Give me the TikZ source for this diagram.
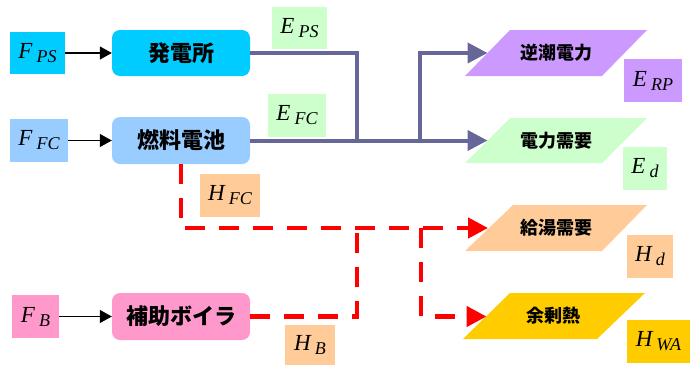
\documentclass[tikz,border=0pt]{standalone}
\usepackage{fontspec}
\newfontfamily\cjk{Noto Sans CJK JP}
\newfontfamily\tms{Liberation Serif}
\newcommand\lbl[2]{{\tms\itshape\fontsize{23}{26}\selectfont #1\hspace{4pt}\raisebox{-4pt}{\fontsize{18}{20}\selectfont #2}}}
\usetikzlibrary{arrows.meta}
\definecolor{cyanbox}{HTML}{00CCFF}
\definecolor{bluebox}{HTML}{99CCFF}
\definecolor{greenbox}{HTML}{CCFFCC}
\definecolor{purplebox}{HTML}{CC99FF}
\definecolor{orangebox}{HTML}{FFCC99}
\definecolor{pinkbox}{HTML}{FF99CC}
\definecolor{goldbox}{HTML}{FFCC00}
\definecolor{elec}{HTML}{666699}
\tikzset{
  lab/.style={inner sep=0pt},
  proc/.style={rounded corners=8pt, minimum width=138pt, minimum height=46pt, inner sep=0pt,
    font=\cjk\bfseries\fontsize{22}{26}\selectfont},
  paratext/.style={inner sep=0pt, font=\cjk\bfseries\fontsize{18}{22}\selectfont},
  feed/.style={line width=1.2pt, -{Triangle[length=12pt,width=13pt]}},
  elecline/.style={elec, line width=4pt},
  eleca/.style={elecline, -{Triangle[length=20pt,width=20pt]}},
  heat/.style={red, line width=4.5pt, dash pattern=on 20pt off 14pt},
  heata/.style={heat, -{Triangle[length=20pt,width=20pt]}}
}
\begin{document}
\begin{tikzpicture}[x=1pt,y=-1pt]
\useasboundingbox (0,0) rectangle (696,365);
% parallelograms
\fill[purplebox] (465,76) -- (510,30) -- (647,30) -- (602,76) -- cycle;
\fill[greenbox] (465,163) -- (510,118) -- (647,118) -- (602,163) -- cycle;
\fill[orangebox] (465,251) -- (513,205) -- (647,205) -- (602,251) -- cycle;
\fill[goldbox] (463,339) -- (510,293) -- (645,293) -- (597,339) -- cycle;
\node[paratext] (RP) at (556,53) {逆潮電力};
\node[paratext] (DJ) at (556,140.5) {電力需要};
\node[paratext] (KY) at (556,228) {給湯需要};
\node[paratext] (YJ) at (553,316) {余剰熱};
\coordinate (RPin) at (487.5,53);
\coordinate (DJin) at (487.5,140.5);
\coordinate (KYin) at (488,228);
\coordinate (YJin) at (486.5,316.5);
% process boxes
\node[proc, fill=cyanbox] (PS) at (181,53) {発電所};
\node[proc, fill=bluebox, minimum height=47pt] (FC) at (181,140.5) {燃料電池};
\node[proc, fill=pinkbox, minimum height=47pt] (HJ) at (181,316.5) {補助ボイラ};
% label boxes
\node[lab, fill=cyanbox, minimum width=55pt, minimum height=42pt] (FPS) at (37.5,53) {\lbl{F}{PS}};
\node[lab, fill=bluebox, minimum width=58pt, minimum height=43pt] (FFC) at (39,140.5) {\lbl{F}{FC}};
\node[lab, fill=pinkbox, minimum width=47pt, minimum height=43pt] (FB) at (35.5,316.5) {\lbl{F}{B}};
\node[lab, fill=greenbox, minimum width=55pt, minimum height=42pt] (EPS) at (299.5,28) {\lbl{E}{PS}};
\node[lab, fill=greenbox, minimum width=58pt, minimum height=43pt] (EFC) at (297,115.5) {\lbl{E}{FC}};
\node[lab, fill=orangebox, minimum width=60pt, minimum height=43pt] (HFC) at (230,195.5) {\lbl{H}{FC}};
\node[lab, fill=orangebox, minimum width=50pt, minimum height=40pt] (HB) at (310,345) {\lbl{H}{B}};
\node[lab, fill=purplebox, minimum width=58pt, minimum height=43pt] (ERP) at (653,80.5) {\lbl{E}{RP}};
\node[lab, fill=greenbox, minimum width=44pt, minimum height=43pt] (Ed) at (645,168.5) {\lbl{E}{d}};
\node[lab, fill=orangebox, minimum width=46pt, minimum height=43pt] (Hd) at (650,256.5) {\lbl{H}{d}};
\node[lab, fill=goldbox, minimum width=63pt, minimum height=43pt] (HWA) at (658.5,341.5) {\lbl{H}{WA}};
% feed arrows
\draw[feed] (FPS.east) -- (PS.west);
\draw[feed] (FFC.east) -- (FC.west);
\draw[feed] (FB.east) -- (HJ.west);
% electricity
\coordinate (j1) at (357,142);
\coordinate (b1) at (420,140.5);
\draw[elecline] (PS.east) -| (j1);
\draw[eleca] (FC.east) -- (DJin);
\draw[eleca] (b1) |- (RPin);
% heat
\coordinate (h2) at (357,228);
\coordinate (b2) at (421,228);
\draw[heata] (FC.south) |- (KYin);
\draw[heat] (HJ.east) -| (h2);
\draw[heata] (b2) |- (YJin);
\end{tikzpicture}
\end{document}
